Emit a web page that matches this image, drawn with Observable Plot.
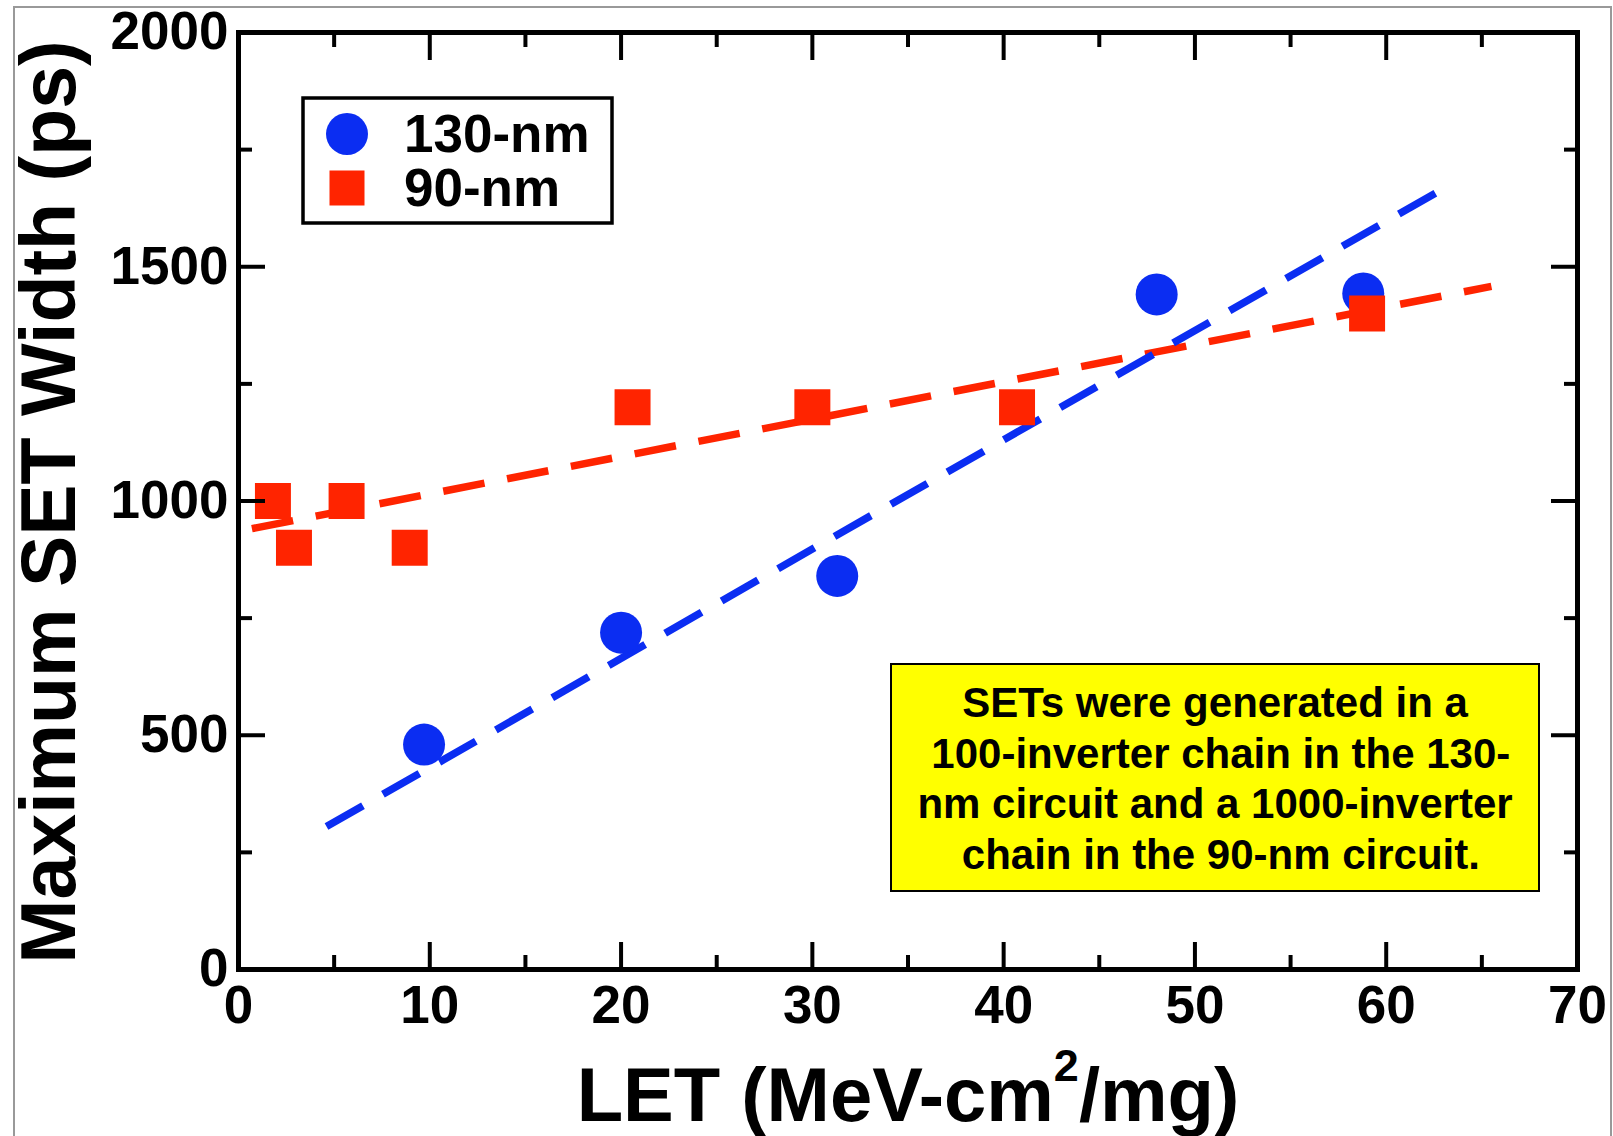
<!DOCTYPE html>
<html>
<head>
<meta charset="utf-8">
<script src="https://cdn.jsdelivr.net/npm/d3@7"></script>
<script src="https://cdn.jsdelivr.net/npm/@observablehq/plot@0.6"></script>
<style>
  html, body { margin: 0; padding: 0; background: #fff; }
  #chart svg { display: block; }
</style>
</head>
<body>
<div id="chart"></div>
<script>
// ---- data ----
const let130 = [9.7, 20.0, 31.3, 48.0, 58.8];
const width130 = [480, 719, 840, 1441, 1443];
const let90 = [1.8, 2.9, 5.65, 8.95, 20.6, 30.0, 40.7, 59.0];
const width90 = [1000, 900, 1000, 900, 1200, 1200, 1200, 1400];
const fit130X = [4.6, 63.0];
const fit130Y = [305, 1667];
const fit90X = [0.7, 65.5];
const fit90Y = [941, 1458];
const xMajor = [0, 10, 20, 30, 40, 50, 60, 70];
const xMinor = [5, 15, 25, 35, 45, 55, 65];
const yMajor = [0, 500, 1000, 1500, 2000];
const yMinor = [250, 750, 1250, 1750];
const seriesNames = ["130-nm", "90-nm"];
const xTitle = ["LET (MeV-cm", "2", "/mg)"];
const yTitle = "Maximum SET Width (ps)";
const noteLines = [
  "SETs were generated in a",
  " 100-inverter chain in the 130-",
  "nm circuit and a 1000-inverter",
  " chain in the 90-nm circuit."
];

// ---- styles ----
const FONT = "'Liberation Sans', Arial, Helvetica, sans-serif";
const BLUE = "#0B2DF2";
const RED = "#FF2400";

const pts130 = let130.map((x, i) => ({x, y: width130[i]}));
const pts90 = let90.map((x, i) => ({x, y: width90[i]}));
const line130 = fit130X.map((x, i) => ({x, y: fit130Y[i]}));
const line90 = fit90X.map((x, i) => ({x, y: fit90Y[i]}));

const fmt = d => String(d);
const tickOpts = (size) => ({tickSize: size, strokeWidth: 4, tickFormat: () => "", label: null});

const plot = Plot.plot({
  width: 1613,
  height: 1136,
  marginLeft: 238,
  marginRight: 36,
  marginTop: 32,
  marginBottom: 167,
  x: {domain: [0, 70], axis: null},
  y: {domain: [0, 2000], axis: null},
  style: {fontFamily: FONT, fontWeight: "bold", background: "#fff", color: "#000"},
  marks: [
    Plot.line(line90, {x: "x", y: "y", stroke: RED, strokeWidth: 7.5, strokeDasharray: "42,23", strokeLinecap: "butt"}),
    Plot.line(line130, {x: "x", y: "y", stroke: BLUE, strokeWidth: 7.5, strokeDasharray: "42,23", strokeLinecap: "butt"}),
    Plot.dot(pts130, {x: "x", y: "y", r: 21, fill: BLUE, symbol: "circle"}),
    Plot.dot(pts90, {x: "x", y: "y", r: 20.3, fill: RED, symbol: "square"}),
    // inward ticks on all four sides
    Plot.axisX(xMajor, {anchor: "bottom", ...tickOpts(-27)}),
    Plot.axisX(xMinor, {anchor: "bottom", ...tickOpts(-14)}),
    Plot.axisX(xMajor, {anchor: "top", ...tickOpts(-27)}),
    Plot.axisX(xMinor, {anchor: "top", ...tickOpts(-14)}),
    Plot.axisY(yMajor, {anchor: "left", ...tickOpts(-27)}),
    Plot.axisY(yMinor, {anchor: "left", ...tickOpts(-14)}),
    Plot.axisY(yMajor, {anchor: "right", ...tickOpts(-27)}),
    Plot.axisY(yMinor, {anchor: "right", ...tickOpts(-14)}),
    // tick labels
    Plot.axisX(xMajor, {anchor: "bottom", tickSize: 0, tickPadding: 16, fontSize: 53, fontWeight: "bold", fontFamily: FONT, tickFormat: fmt, label: null}),
    Plot.axisY(yMajor, {anchor: "left", tickSize: 0, tickPadding: 10, fontSize: 53, fontWeight: "bold", fontFamily: FONT, tickFormat: fmt, label: null}),
    Plot.frame({stroke: "#000", strokeWidth: 5})
  ]
});

document.getElementById("chart").appendChild(plot);
const svg = d3.select(plot);

// outer gray border (left, top, right)
svg.append("path")
  .attr("d", "M14,1136V7H1611V1136")
  .attr("fill", "none").attr("stroke", "#999").attr("stroke-width", 2);

// legend
const lg = svg.append("g");
lg.append("rect").attr("x", 303).attr("y", 98).attr("width", 309).attr("height", 125)
  .attr("fill", "#fff").attr("stroke", "#000").attr("stroke-width", 3.5);
lg.append("circle").attr("cx", 347).attr("cy", 134).attr("r", 21).attr("fill", BLUE);
lg.append("rect").attr("x", 347 - 17.5).attr("y", 188 - 17.5).attr("width", 35).attr("height", 35).attr("fill", RED);
seriesNames.forEach((name, i) => {
  lg.append("text").attr("x", 404).attr("y", 152 + i * 54)
    .attr("text-anchor", "start")
    .attr("font-family", FONT).attr("font-weight", "bold").attr("font-size", 53)
    .attr("fill", "#000").text(name);
});

// note box
const nb = svg.append("g");
nb.append("rect").attr("x", 891).attr("y", 664).attr("width", 648).attr("height", 227)
  .attr("fill", "#FFFF00").attr("stroke", "#000").attr("stroke-width", 2);
noteLines.forEach((t, i) => {
  nb.append("text").attr("x", 1215).attr("y", 717 + i * 50.5)
    .attr("text-anchor", "middle").attr("xml:space", "preserve").style("white-space", "pre")
    .attr("font-family", FONT).attr("font-weight", "bold").attr("font-size", 42)
    .attr("fill", "#000").text(t);
});

// x title with superscript
const xt = svg.append("text").attr("x", 908).attr("y", 1121).attr("text-anchor", "middle")
  .attr("font-family", FONT).attr("font-weight", "bold").attr("font-size", 76).attr("fill", "#000");
xt.append("tspan").text(xTitle[0]);
xt.append("tspan").attr("font-size", 45).attr("dy", -40).text(xTitle[1]);
xt.append("tspan").attr("dy", 40).text(xTitle[2]);

// y title
svg.append("text").attr("transform", "translate(75,502) rotate(-90)").attr("text-anchor", "middle")
  .attr("font-family", FONT).attr("font-weight", "bold").attr("font-size", 77).attr("fill", "#000")
  .text(yTitle);
</script>
</body>
</html>
